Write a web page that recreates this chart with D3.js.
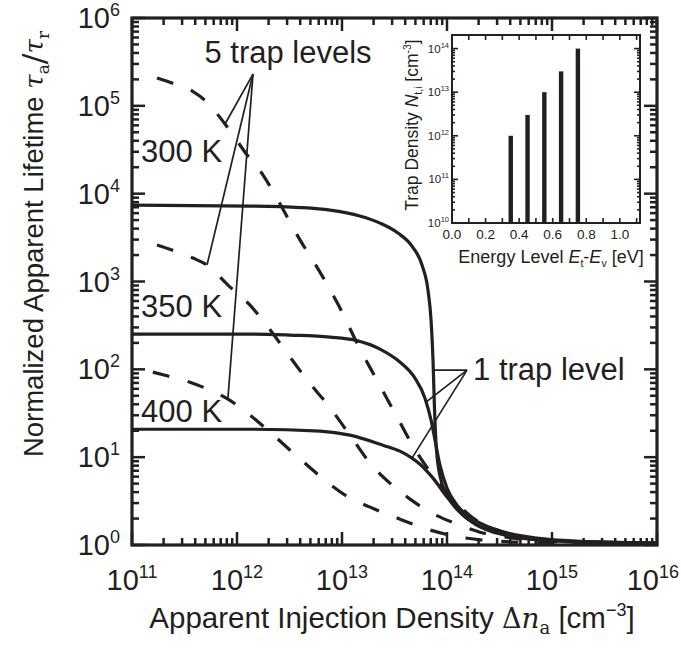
<!DOCTYPE html>
<html><head><meta charset="utf-8">
<script src="https://cdn.jsdelivr.net/npm/d3@7"></script>
<style>
body{margin:0;background:#fff}
svg{display:block}
text{font-family:"Liberation Sans",Arial,Helvetica,sans-serif;fill:#231f20}
</style>
</head><body>
<svg id="chart" width="681" height="650"></svg>
<script>
// ---------------- DATA ----------------
const xTickExps = [11, 12, 13, 14, 15, 16];
const yTickExps = [0, 1, 2, 3, 4, 5, 6];
const tempLabels = ["300 K", "350 K", "400 K"];

// 1 trap level (solid)
const oneTrap300K_dn  = [1e11, 1.33e12, 3.98e12, 7.69e12, 1.48e13, 2.3e13, 3.41e13, 4.64e13, 5.78e13, 6.59e13, 7.05e13, 7.36e13, 7.61e13, 7.94e13, 8.77e13, 1.07e14, 1.39e14, 2.06e14, 3.56e14, 7.69e14, 2.86e15, 1e16];
const oneTrap300K_tau = [7410, 7230, 6950, 6500, 5560, 4620, 3560, 2530, 1540, 798, 363, 127, 34.3, 12.0, 5.47, 3.24, 2.24, 1.64, 1.33, 1.16, 1.076, 1.05];
const oneTrap350K_dn  = [1e11, 1.33e12, 3.2e12, 7.69e12, 1.33e13, 2.3e13, 3.56e13, 4.95e13, 6.17e13, 7.05e13, 7.69e13, 8.57e13, 1e14, 1.245e14, 1.73e14, 2.86e14, 6.17e14, 1.85e15, 1e16];
const oneTrap350K_tau = [252, 252, 245, 233, 215, 170, 121, 79.4, 47.0, 26.4, 15.6, 8.11, 4.44, 2.84, 2.02, 1.51, 1.23, 1.10, 1.05];
const oneTrap400K_dn  = [1e11, 1.33e12, 6.17e12, 1.19e13, 2.45e13, 3.56e13, 4.64e13, 5.53e13, 7.36e13, 1e14, 1.33e14, 1.85e14, 2.57e14, 3.98e14, 7.69e14, 2.86e15, 1e16];
const oneTrap400K_tau = [20.8, 20.8, 19.8, 17.8, 13.7, 11.7, 9.75, 8.32, 5.77, 3.51, 2.37, 1.73, 1.44, 1.26, 1.135, 1.076, 1.05];

// 5 trap levels (dashed)
const fiveTrap300K_dn  = [1.73e11, 2.4e11, 3.72e11, 5.18e11, 7.69e11, 1.27e12, 1.77e12, 2.51e12, 3.89e12, 6.17e12, 9.57e12, 1.42e13, 2.15e13, 3.27e13, 5.07e13, 9.57e13, 1.73e14, 3.72e14, 1.19e15, 1e16];
const fiveTrap300K_tau = [2.07e5, 1.82e5, 1.48e5, 1.10e5, 6.21e4, 2.68e4, 1.63e4, 8020, 3120, 1280, 498, 189, 75.3, 30.1, 11.7, 4.21, 2.07, 1.36, 1.10, 1.035];
const fiveTrap350K_dn  = [1.73e11, 2.4e11, 3.81e11, 5.18e11, 8.2e11, 1.33e12, 1.97e12, 3.2e12, 4.74e12, 7.36e12, 1.19e13, 1.85e13, 2.86e13, 4.45e13, 6.89e13, 1.19e14, 2.06e14, 4.45e14, 1.48e15, 1e16];
const fiveTrap350K_tau = [2600, 2280, 1850, 1540, 910, 538, 303, 138, 73.5, 39.1, 17.8, 8.55, 5.06, 3.33, 2.37, 1.77, 1.40, 1.19, 1.076, 1.035];
const fiveTrap400K_dn  = [1.58e11, 2.2e11, 3.56e11, 4.74e11, 8.2e11, 1.33e12, 2.06e12, 3.81e12, 6.17e12, 1.07e13, 1.85e13, 3.56e13, 6.89e13, 1.33e14, 3.2e14, 1.19e15, 1e16];
const fiveTrap400K_tau = [92.9, 83.8, 71.4, 62.7, 45.7, 30.1, 19.3, 10.0, 6.08, 3.69, 2.70, 1.97, 1.48, 1.23, 1.10, 1.05, 1.035];

// annotations (data coordinates)
const tempLabelDn  = [1.22e11, 1.22e11, 1.22e11];
const tempLabelTau = [2.29e4, 394, 25.1];
const fiveTrapLabel = {text: "5 trap levels", dn: 3.06e12, tau: 3.07e5};
const fiveTrapApex = [1.42e12, 2.3e5];
const fiveTrapTargets = [[7.69e11, 6.21e4], [5.18e11, 1540], [8.2e11, 47]];
const oneTrapLabel = {text: "1 trap level", dn: 1.77e14, tau: 75.3};
const oneTrapApex = [1.55e14, 98];
const oneTrapTargets = [[7.45e13, 98], [6.31e13, 42.3], [4.64e13, 9.75]];

// inset data
const insetEnergy = [0.35, 0.45, 0.55, 0.65, 0.75];
const insetDensity = [1e12, 3e12, 1e13, 3e13, 1e14];
const insetXTicks = [0.0, 0.2, 0.4, 0.6, 0.8, 1.0];
const insetYTickExps = [10, 11, 12, 13, 14];

// ---------------- DRAW ----------------
const svg = d3.select("#chart");
const ink = "#231f20";
const W = 681;
const L = 132, R = 657, T = 18, B = 545;
const x = d3.scaleLog().domain([1e11, 1e16]).range([L, R]);
const y = d3.scaleLog().domain([1, 1e6]).range([B, T]);

svg.append("defs").append("clipPath").attr("id", "plotclip")
  .append("rect").attr("x", L).attr("y", T).attr("width", R - L).attr("height", B - T);

// ticks
const tickG = svg.append("g").attr("stroke", ink).attr("stroke-width", 2.5);
const xMinor = [], yMinor = [];
for (let e = 11; e < 16; e++) for (let m = 2; m <= 9; m++) xMinor.push(m * Math.pow(10, e));
for (let e = 0; e < 6; e++) for (let m = 2; m <= 9; m++) yMinor.push(m * Math.pow(10, e));
const MAJ = 13, MIN = 7;
xTickExps.forEach(e => {
  const v = Math.pow(10, e);
  tickG.append("line").attr("x1", x(v)).attr("x2", x(v)).attr("y1", B).attr("y2", B - MAJ);
  tickG.append("line").attr("x1", x(v)).attr("x2", x(v)).attr("y1", T).attr("y2", T + MAJ);
});
xMinor.forEach(v => {
  tickG.append("line").attr("x1", x(v)).attr("x2", x(v)).attr("y1", B).attr("y2", B - MIN);
  tickG.append("line").attr("x1", x(v)).attr("x2", x(v)).attr("y1", T).attr("y2", T + MIN);
});
yTickExps.forEach(e => {
  const v = Math.pow(10, e);
  tickG.append("line").attr("y1", y(v)).attr("y2", y(v)).attr("x1", L).attr("x2", L + MAJ);
  tickG.append("line").attr("y1", y(v)).attr("y2", y(v)).attr("x1", R).attr("x2", R - MAJ);
});
yMinor.forEach(v => {
  tickG.append("line").attr("y1", y(v)).attr("y2", y(v)).attr("x1", L).attr("x2", L + MIN);
  tickG.append("line").attr("y1", y(v)).attr("y2", y(v)).attr("x1", R).attr("x2", R - MIN);
});

svg.append("rect").attr("x", L).attr("y", T).attr("width", R - L).attr("height", B - T)
  .attr("fill", "none").attr("stroke", ink).attr("stroke-width", 3.2);

// tick labels
xTickExps.forEach(e => {
  const t = svg.append("text").attr("x", x(Math.pow(10, e))).attr("y", 590)
    .attr("text-anchor", "middle").attr("font-size", 29);
  t.append("tspan").text("10");
  t.append("tspan").attr("font-size", 18).attr("dy", -12).text(e);
  const bb = t.node().getBBox();
  const over = bb.x + bb.width - (W - 2);
  if (over > 0) t.attr("x", x(Math.pow(10, e)) - over);
});
yTickExps.forEach(e => {
  const t = svg.append("text").attr("x", 120).attr("y", y(Math.pow(10, e)) + 10)
    .attr("text-anchor", "end").attr("font-size", 29);
  t.append("tspan").text("10");
  t.append("tspan").attr("font-size", 18).attr("dy", -12).text(e);
});

// axis titles
const xt = svg.append("text").attr("x", 392).attr("y", 628).attr("text-anchor", "middle").attr("font-size", 29.5);
xt.append("tspan").text("Apparent Injection Density ");
xt.append("tspan").attr("font-family", "DejaVu Serif, serif").attr("font-size", 27).text("Δ");
xt.append("tspan").attr("font-family", "DejaVu Serif, serif").attr("font-style", "italic").attr("font-size", 28).text("n");
xt.append("tspan").attr("font-family", "DejaVu Serif, serif").attr("font-size", 18).attr("dy", 6).text("a");
xt.append("tspan").attr("dy", -6).text(" [cm");
xt.append("tspan").attr("font-size", 18).attr("dy", -12).text("−3");
xt.append("tspan").attr("dy", 12).text("]");

const yt = svg.append("text").attr("transform", "translate(43,244) rotate(-90)")
  .attr("text-anchor", "middle").attr("font-size", 27.5);
yt.append("tspan").text("Normalized Apparent Lifetime ");
yt.append("tspan").attr("font-family", "DejaVu Serif, serif").attr("font-style", "italic").attr("font-size", 26).text("τ");
yt.append("tspan").attr("font-family", "DejaVu Serif, serif").attr("font-size", 17).attr("dy", 6).text("a");
yt.append("tspan").attr("font-family", "DejaVu Serif, serif").attr("font-size", 32).attr("dy", -4).text("/");
yt.append("tspan").attr("font-family", "DejaVu Serif, serif").attr("font-style", "italic").attr("font-size", 26).attr("dy", -2).text("τ");
yt.append("tspan").attr("font-family", "DejaVu Serif, serif").attr("font-size", 17).attr("dy", 6).text("r");

// curves
const line = d3.line().x(d => x(d[0])).y(d => y(d[1])).curve(d3.curveMonotoneX);
const curveG = svg.append("g").attr("clip-path", "url(#plotclip)").attr("fill", "none").attr("stroke", ink);
const solids = [[oneTrap300K_dn, oneTrap300K_tau], [oneTrap350K_dn, oneTrap350K_tau], [oneTrap400K_dn, oneTrap400K_tau]];
const dashes = [[fiveTrap300K_dn, fiveTrap300K_tau], [fiveTrap350K_dn, fiveTrap350K_tau], [fiveTrap400K_dn, fiveTrap400K_tau]];
dashes.forEach(([xs, ys]) => {
  curveG.append("path").attr("d", line(xs.map((v, i) => [v, ys[i]])))
    .attr("stroke-width", 3.2).attr("stroke-dasharray", "17,19");
});
solids.forEach(([xs, ys]) => {
  curveG.append("path").attr("d", line(xs.map((v, i) => [v, ys[i]]))).attr("stroke-width", 3.2);
});

// annotations
const annG = svg.append("g").attr("stroke", ink).attr("stroke-width", 1.7).attr("fill", "none");
fiveTrapTargets.forEach(p => annG.append("line")
  .attr("x1", x(fiveTrapApex[0])).attr("y1", y(fiveTrapApex[1])).attr("x2", x(p[0])).attr("y2", y(p[1])));
oneTrapTargets.forEach(p => annG.append("line")
  .attr("x1", x(oneTrapApex[0])).attr("y1", y(oneTrapApex[1])).attr("x2", x(p[0])).attr("y2", y(p[1])));
svg.append("text").attr("x", x(fiveTrapLabel.dn)).attr("y", y(fiveTrapLabel.tau))
  .attr("text-anchor", "middle").attr("font-size", 31).text(fiveTrapLabel.text);
svg.append("text").attr("x", x(oneTrapLabel.dn)).attr("y", y(oneTrapLabel.tau))
  .attr("font-size", 31).text(oneTrapLabel.text);
tempLabels.forEach((s, i) => svg.append("text").attr("x", x(tempLabelDn[i])).attr("y", y(tempLabelTau[i]))
  .attr("font-size", 31).text(s));

// ---------------- INSET ----------------
const iL = 452, iR = 640, iT = 35, iB = 223;
const ix = d3.scaleLinear().domain([0, 1.12]).range([iL, iR]);
const iy = d3.scaleLog().domain([1e10, 2.05e14]).range([iB, iT]);
svg.append("rect").attr("x", iL).attr("y", iT).attr("width", iR - iL).attr("height", iB - iT).attr("fill", "#fff");
const ig = svg.append("g").attr("stroke", ink).attr("stroke-width", 1.6);
for (let k = 0; k <= 11; k++) {
  const v = k / 10;
  ig.append("line").attr("x1", ix(v)).attr("x2", ix(v)).attr("y1", iB).attr("y2", iB - 5);
  ig.append("line").attr("x1", ix(v)).attr("x2", ix(v)).attr("y1", iT).attr("y2", iT + 5);
}
insetYTickExps.forEach(e => {
  const v = Math.pow(10, e);
  ig.append("line").attr("y1", iy(v)).attr("y2", iy(v)).attr("x1", iL).attr("x2", iL + 6);
  ig.append("line").attr("y1", iy(v)).attr("y2", iy(v)).attr("x1", iR).attr("x2", iR - 6);
  if (e < 14) for (let m = 2; m <= 9; m++) {
    ig.append("line").attr("y1", iy(m * v)).attr("y2", iy(m * v)).attr("x1", iL).attr("x2", iL + 3);
    ig.append("line").attr("y1", iy(m * v)).attr("y2", iy(m * v)).attr("x1", iR).attr("x2", iR - 3);
  }
});
svg.append("g").selectAll("rect").data(insetEnergy).join("rect")
  .attr("x", d => ix(d) - 2.2).attr("width", 4.4)
  .attr("y", (d, i) => iy(insetDensity[i])).attr("height", (d, i) => iB - iy(insetDensity[i]))
  .attr("fill", ink);
svg.append("rect").attr("x", iL).attr("y", iT).attr("width", iR - iL).attr("height", iB - iT)
  .attr("fill", "none").attr("stroke", ink).attr("stroke-width", 2);
insetXTicks.forEach(v => svg.append("text").attr("x", ix(v)).attr("y", 239)
  .attr("text-anchor", "middle").attr("font-size", 13.5).text(v.toFixed(1)));
insetYTickExps.forEach(e => {
  const t = svg.append("text").attr("x", 449).attr("y", iy(Math.pow(10, e)) + 4)
    .attr("text-anchor", "end").attr("font-size", 11.5);
  t.append("tspan").text("10");
  t.append("tspan").attr("font-size", 7.5).attr("dy", -5).text(e);
});
const ixt = svg.append("text").attr("x", 551).attr("y", 263).attr("text-anchor", "middle").attr("font-size", 18);
ixt.append("tspan").text("Energy Level ");
ixt.append("tspan").attr("font-style", "italic").text("E");
ixt.append("tspan").attr("font-size", 10.5).attr("dy", 4).text("t");
ixt.append("tspan").attr("dy", -4).text("-");
ixt.append("tspan").attr("font-style", "italic").text("E");
ixt.append("tspan").attr("font-size", 10.5).attr("dy", 4).text("v");
ixt.append("tspan").attr("dy", -4).text(" [eV]");
const iyt = svg.append("text").attr("transform", "translate(418,125) rotate(-90)")
  .attr("text-anchor", "middle").attr("font-size", 17.5);
iyt.append("tspan").text("Trap Density ");
iyt.append("tspan").attr("font-style", "italic").text("N");
iyt.append("tspan").attr("font-size", 10.5).attr("dy", 4).text("t,i");
iyt.append("tspan").attr("dy", -4).text(" [cm");
iyt.append("tspan").attr("font-size", 10.5).attr("dy", -7).text("-3");
iyt.append("tspan").attr("dy", 7).text("]");
</script>
</body></html>
